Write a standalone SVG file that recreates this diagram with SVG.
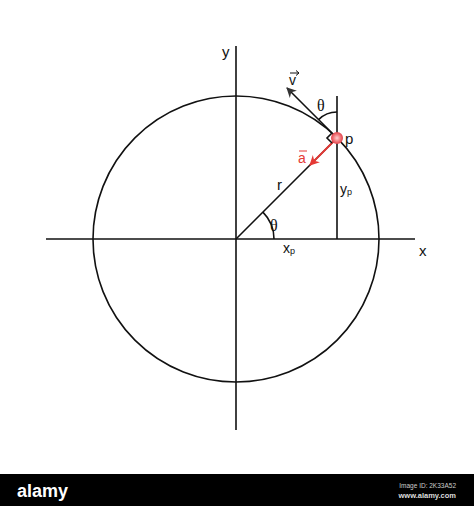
<svg xmlns="http://www.w3.org/2000/svg" width="474" height="506" viewBox="0 0 474 506">
<defs>
<style>
.ln{stroke:#111;stroke-width:1.6;fill:none}
.t{font-family:"Liberation Sans",Arial,sans-serif;fill:#111}
.g{font-family:"Liberation Serif","Times New Roman",serif;fill:#111}
</style>
<marker id="ab" viewBox="0 0 10 10" refX="9" refY="5" markerWidth="10" markerHeight="10" orient="auto" markerUnits="userSpaceOnUse">
<path d="M0,0 L10,5 L0,10 L3,5 Z" fill="#333"/>
</marker>
<marker id="ar" viewBox="0 0 10 10" refX="9" refY="5" markerWidth="10" markerHeight="10" orient="auto" markerUnits="userSpaceOnUse">
<path d="M0,0 L10,5 L0,10 L3,5 Z" fill="#e53935"/>
</marker>
<radialGradient id="dot" cx="0.5" cy="0.5" r="0.5">
<stop offset="0" stop-color="#fbd0d0"/>
<stop offset="0.6" stop-color="#f0767a"/>
<stop offset="1" stop-color="#e2424a"/>
</radialGradient>
</defs>
<rect width="474" height="506" fill="#fff"/>
<g id="axes">
<line class="ln" x1="46" y1="239" x2="415" y2="239"/>
<line class="ln" x1="236" y1="46" x2="236" y2="430"/>
</g>
<g id="circle"><circle class="ln" cx="236" cy="239" r="143"/></g>
<g id="connectors">
<line class="ln" x1="236" y1="239" x2="337" y2="138"/>
<line class="ln" x1="337" y1="96" x2="337" y2="239"/>
<line x1="337" y1="138" x2="287" y2="88" stroke="#111" stroke-width="1.6" marker-end="url(#ab)"/>
<line x1="337" y1="138" x2="310" y2="165" stroke="#e53935" stroke-width="1.8" marker-end="url(#ar)"/>
<path class="ln" d="M332,133 L327,138 L332,143" stroke-width="1.3"/>
<path class="ln" d="M274,239 A38,38 0 0 0 262.9,212.1" stroke-width="1.3"/>
<path class="ln" d="M337,112 A26,26 0 0 0 318.6,119.6" stroke-width="1.3"/>
</g>
<g id="p"><circle cx="337" cy="138" r="6" fill="url(#dot)"/></g>
<g id="labels">
<text class="t" x="222" y="57" font-size="15">y</text>
<text class="t" x="419" y="256" font-size="15">x</text>
<text class="t" x="289" y="85" font-size="14">v</text>
<path d="M290,73 L299,73 M296,70.5 L299,73 L296,75.5" stroke="#111" stroke-width="1" fill="none"/>
<text class="g" x="317" y="111" font-size="16">θ</text>
<text class="t" x="345" y="144" font-size="15">p</text>
<text x="298" y="163" font-size="14" font-family="Liberation Sans,Arial,sans-serif" fill="#e53935">a</text>
<path d="M299,151 L307,151" stroke="#e53935" stroke-width="1"/>
<text class="t" x="340" y="194" font-size="14">y<tspan font-size="9" dy="1">p</tspan></text>
<text class="t" x="277" y="190" font-size="15">r</text>
<text class="g" x="270" y="231" font-size="16">θ</text>
<text class="t" x="283" y="253" font-size="14">x<tspan font-size="9" dy="1">p</tspan></text>
</g>
<g id="watermark">
<rect x="0" y="474" width="474" height="32" fill="#000"/>
<text x="17" y="497" font-size="18" font-weight="bold" font-family="Liberation Sans,Arial,sans-serif" fill="#fff">alamy</text>
<text x="456" y="488" font-size="6.5" text-anchor="end" font-family="Liberation Sans,Arial,sans-serif" fill="#ccc">Image ID: 2K33A52</text>
<text x="456" y="498" font-size="7.5" font-weight="bold" text-anchor="end" font-family="Liberation Sans,Arial,sans-serif" fill="#ddd">www.alamy.com</text>
</g>
</svg>
